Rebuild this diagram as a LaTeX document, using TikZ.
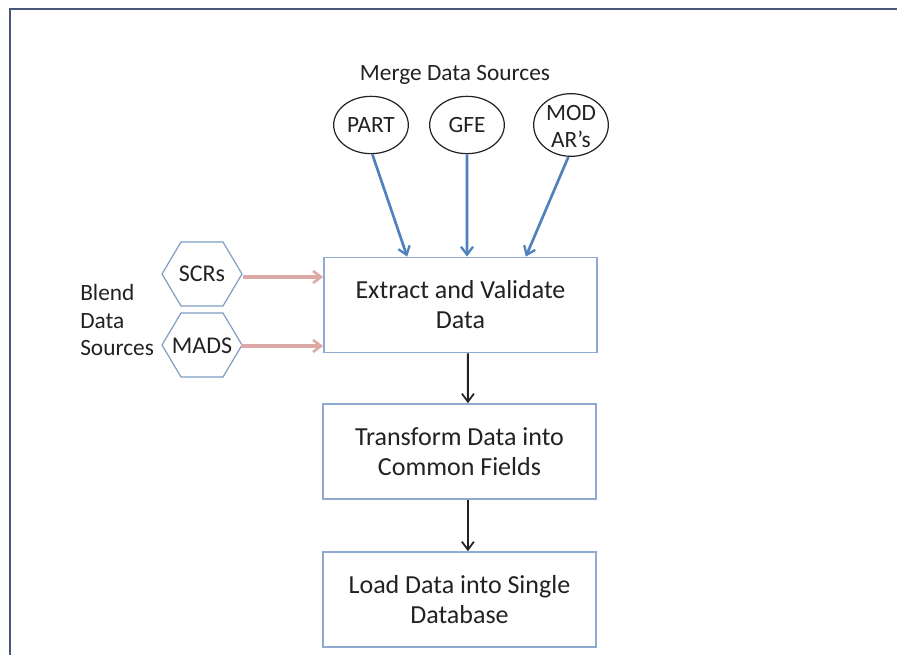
\documentclass[tikz,border=0pt]{standalone}
\usepackage{fontspec}
\setmainfont{Carlito}
\usetikzlibrary{shapes.geometric,arrows.meta}
\definecolor{framecol}{HTML}{4A5878}
\definecolor{boxcol}{HTML}{8FAAD0}
\definecolor{bluearrow}{HTML}{4F81BD}
\definecolor{pinkarrow}{HTML}{DDA9A6}
\definecolor{hexcol}{HTML}{7F9CC4}
\definecolor{ink}{HTML}{222222}
\tikzset{
  stepbox/.style={draw=boxcol, line width=1.3pt, minimum width=204.75pt, minimum height=71.25pt,
    align=center, font=\fontsize{19.5}{22.5}\selectfont, text=ink},
  src/.style={ellipse, draw=ink, line width=0.9pt, inner sep=0pt},
  srclabel/.style={align=center, inner sep=0pt, font=\fontsize{17.5}{20}\selectfont, text=ink},
  hexlabel/.style={inner sep=0pt, font=\fontsize{18}{20}\selectfont, text=ink},
  merge/.style={draw=bluearrow, line width=2pt, -{Straight Barb[length=6pt,width=9pt,line width=1.7pt]}},
  blend/.style={draw=pinkarrow, line width=2.4pt, -{Straight Barb[length=6pt,width=9pt,line width=1.9pt]}},
  flow/.style={draw=ink, line width=1.5pt, -{Straight Barb[length=6pt,width=9pt,line width=1.3pt]}},
  hexshape/.style={draw=hexcol, line width=0.9pt, fill=white}
}
\begin{document}
\begin{tikzpicture}[x=0.75pt,y=-0.75pt]
\useasboundingbox (0,0) rectangle (897,655);
\fill[white] (0,0) rectangle (897,655);
% outer frame, running off the right and bottom edges
\begin{scope}
\clip (0,0) rectangle (897,655);
\draw[framecol, line width=2.2pt] (10,670) -- (10,9) -- (910,9);
\end{scope}

% processing steps
\node[stepbox] (extract) at (460.5,305) {Extract and Validate\\Data};
\node[stepbox] (transform) at (459.5,451.5) {Transform Data into\\Common Fields};
\node[stepbox] (load) at (459.5,599.5) {Load Data into Single\\Database};

% merged sources
\node[srclabel] (mergetitle) at (455,75) {Merge Data Sources};
\node[src, minimum width=56pt, minimum height=43pt] (part) at (371,125) {};
\node[src, minimum width=56pt, minimum height=43pt] (gfe) at (467,125) {};
\node[src, minimum width=56pt, minimum height=47pt] (mod) at (571,125) {};
\node[srclabel] (partlabel) at (part) {PART};
\node[srclabel] (gfelabel) at (gfe) {GFE};
\node[srclabel] (modlabel) at ([yshift=-1pt]mod) {MOD\\AR’s};

% blended sources (hexagons)
\draw[hexshape] (162,274) -- (181,242) -- (223,242) -- (242,274) -- (223,306) -- (181,306) -- cycle;
\draw[hexshape] (162,345) -- (181,313) -- (223,313) -- (242,345) -- (223,377) -- (181,377) -- cycle;
\node[hexlabel] (scr) at (202,274) {SCRs};
\node[hexlabel] (mads) at (202,346) {MADS};
\coordinate (scrtip) at (243,277);
\coordinate (madstip) at (241,346);
\node[srclabel, align=left, anchor=west, font=\fontsize{17.5}{20.6}\selectfont] (blendtitle) at (80,320) {Blend\\Data\\Sources};

% connectors
\draw[merge] ([xshift=1pt]part.south) -- ([xshift=-40pt]extract.north);
\draw[merge] (gfe.south) -- ([xshift=4.9pt]extract.north);
\draw[merge] ([xshift=-2pt]mod.south) -- ([xshift=49pt]extract.north);
\draw[blend] (scrtip) -- (extract.west |- scrtip);
\draw[blend] (madstip) -- (extract.west |- madstip);
\draw[flow] ([xshift=5.6pt]extract.south) -- ([xshift=6.3pt]transform.north);
\draw[flow] ([xshift=6.3pt]transform.south) -- ([xshift=6.3pt]load.north);
\end{tikzpicture}
\end{document}
